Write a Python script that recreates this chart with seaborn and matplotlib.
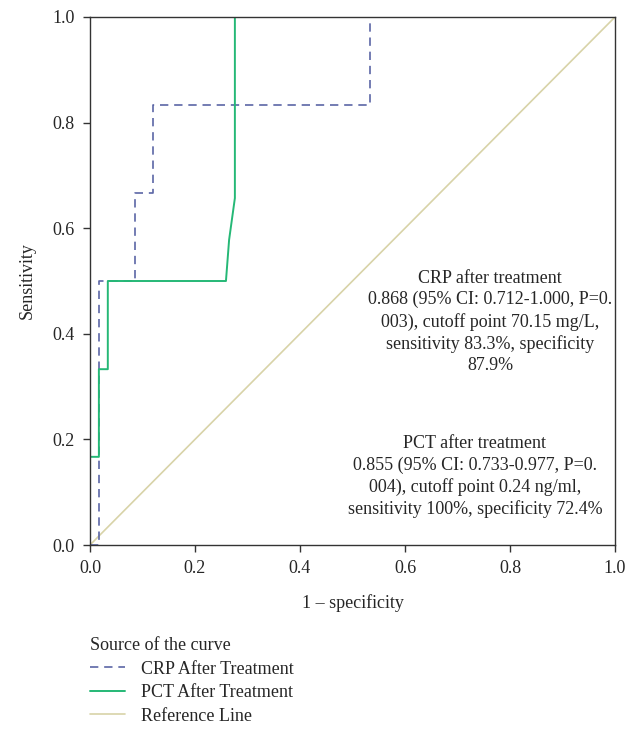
import seaborn as sns
import matplotlib.pyplot as plt
import pandas as pd

width, height, my_dpi = 638, 739, 100

# ROC points
crp_fpr = [0.0, 0.017, 0.017, 0.086, 0.086, 0.121, 0.121, 0.534, 0.534, 1.0]
crp_tpr = [0.0, 0.0, 0.5, 0.5, 0.667, 0.667, 0.833, 0.833, 1.0, 1.0]
pct_fpr = [0.0, 0.0, 0.017, 0.017, 0.034, 0.034, 0.259, 0.265, 0.276, 0.276, 1.0]
pct_tpr = [0.0, 0.167, 0.167, 0.333, 0.333, 0.5, 0.5, 0.578, 0.657, 1.0, 1.0]
ref_x = [0.0, 1.0]
ref_y = [0.0, 1.0]

labels = ['CRP After Treatment', 'PCT After Treatment', 'Reference Line']
colors = ['#5b66a6', '#25b876', '#d8d3a8']

crp_text = ("CRP after treatment\n0.868 (95% CI: 0.712-1.000, P=0.\n"
            "003), cutoff point 70.15 mg/L,\nsensitivity 83.3%, specificity\n87.9%")
pct_text = ("PCT after treatment\n0.855 (95% CI: 0.733-0.977, P=0.\n"
            "004), cutoff point 0.24 ng/ml,\nsensitivity 100%, specificity 72.4%")

sns.set_style('ticks')
plt.rcParams['font.family'] = ['Liberation Serif', 'DejaVu Serif']
plt.rcParams['font.size'] = 13

fig = plt.figure(figsize=(width / my_dpi, height / my_dpi), dpi=my_dpi)
ax = fig.add_axes([0.141, 0.2625, 0.823, 0.7145])

crp_df = pd.DataFrame({'x': crp_fpr, 'y': crp_tpr})
pct_df = pd.DataFrame({'x': pct_fpr, 'y': pct_tpr})
ref_df = pd.DataFrame({'x': ref_x, 'y': ref_y})

sns.lineplot(data=ref_df, x='x', y='y', sort=False, estimator=None, ax=ax,
             color=colors[2], linewidth=1.2, label=labels[2])
sns.lineplot(data=crp_df, x='x', y='y', sort=False, estimator=None, ax=ax,
             color=colors[0], linewidth=1.2, dashes=False, label=labels[0])
ax.lines[-1].set_dashes([5, 3.5])
sns.lineplot(data=pct_df, x='x', y='y', sort=False, estimator=None, ax=ax,
             color=colors[1], linewidth=1.4, label=labels[1])

ax.set_xlim(0, 1)
ax.set_ylim(0, 1)
ax.set_xticks([0, 0.2, 0.4, 0.6, 0.8, 1.0])
ax.set_yticks([0, 0.2, 0.4, 0.6, 0.8, 1.0])
ax.xaxis.set_major_formatter(plt.FormatStrFormatter('%.1f'))
ax.yaxis.set_major_formatter(plt.FormatStrFormatter('%.1f'))
ax.tick_params(labelsize=13, length=5, width=1, color='#333333', pad=6)
for s in ax.spines.values():
    s.set_color('#333333')
    s.set_linewidth(1)
ax.set_xlabel('1 – specificity', fontsize=13, labelpad=12)
ax.set_ylabel('Sensitivity', fontsize=13, labelpad=12)

ax.text(0.762, 0.521, crp_text, ha='center', va='top', fontsize=13,
        linespacing=1.32)
ax.text(0.733, 0.208, pct_text, ha='center', va='top', fontsize=13,
        linespacing=1.32)

handles, lbls = ax.get_legend_handles_labels()
order = [lbls.index(l) for l in labels]
ax.get_legend().remove()
fig.legend([handles[i] for i in order], [lbls[i] for i in order],
           title='Source of the curve', loc='upper left',
           bbox_to_anchor=(0.116, 0.16), frameon=False, fontsize=13,
           title_fontsize=13, handlelength=1.95, handletextpad=0.85,
           labelspacing=0.36, alignment='left')

plt.savefig('out.png', dpi=my_dpi)
